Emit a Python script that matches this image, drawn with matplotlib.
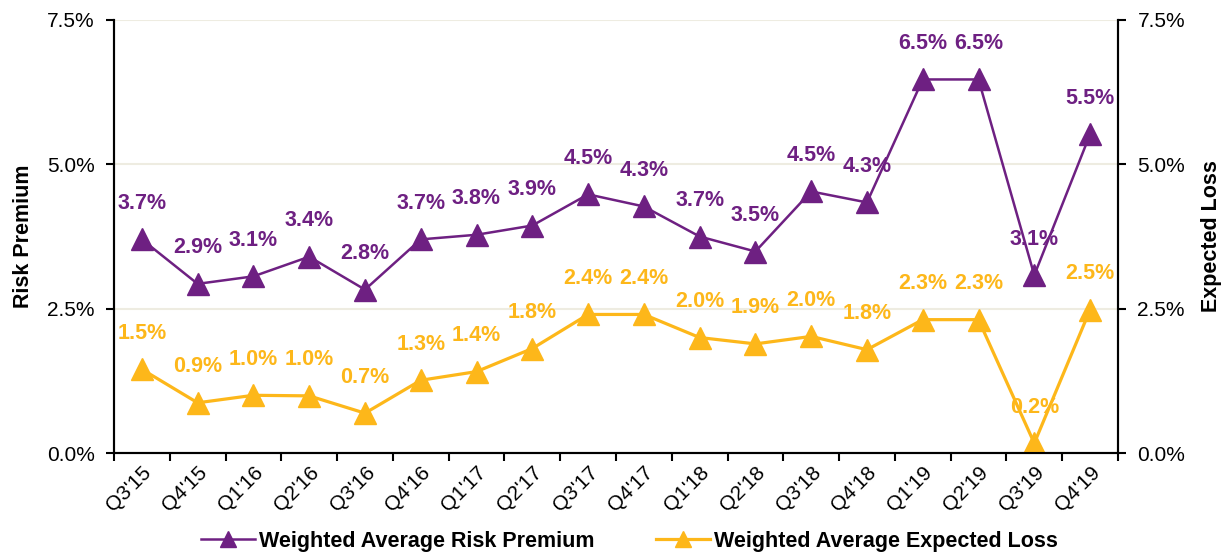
import matplotlib.pyplot as plt
from matplotlib.ticker import FuncFormatter

quarters = ["Q3'15", "Q4'15", "Q1'16", "Q2'16", "Q3'16", "Q4'16", "Q1'17", "Q2'17", "Q3'17",
            "Q4'17", "Q1'18", "Q2'18", "Q3'18", "Q4'18", "Q1'19", "Q2'19", "Q3'19", "Q4'19"]
riskPremium = [3.70, 2.93, 3.06, 3.40, 2.83, 3.70, 3.78, 3.94, 4.48,
               4.27, 3.75, 3.49, 4.53, 4.34, 6.47, 6.47, 3.08, 5.52]
riskLabels = ["3.7%", "2.9%", "3.1%", "3.4%", "2.8%", "3.7%", "3.8%", "3.9%", "4.5%",
              "4.3%", "3.7%", "3.5%", "4.5%", "4.3%", "6.5%", "6.5%", "3.1%", "5.5%"]
expectedLoss = [1.45, 0.87, 1.00, 0.99, 0.69, 1.26, 1.41, 1.81, 2.40,
                2.40, 2.00, 1.89, 2.02, 1.79, 2.31, 2.31, 0.17, 2.48]
lossLabels = ["1.5%", "0.9%", "1.0%", "1.0%", "0.7%", "1.3%", "1.4%", "1.8%", "2.4%",
              "2.4%", "2.0%", "1.9%", "2.0%", "1.8%", "2.3%", "2.3%", "0.2%", "2.5%"]
yTicks = [0, 2.5, 5.0, 7.5]

purple = '#6E2082'
orange = '#FDB71A'
plt.rcParams['font.family'] = ['Liberation Sans', 'DejaVu Sans']

fig = plt.figure(figsize=(12.23, 5.52), dpi=100)
ax = fig.add_axes([0.0932, 0.1793, 0.8209, 0.7845])
ax2 = ax.twinx()

x = list(range(len(quarters)))
ax.plot(x, riskPremium, color=purple, lw=1.8, marker='^', ms=16, label='Weighted Average Risk Premium', zorder=3)
ax.plot(x, expectedLoss, color=orange, lw=2.3, marker='^', ms=16, label='Weighted Average Expected Loss', zorder=3)

for i in x:
    ax.annotate(riskLabels[i], (i, riskPremium[i]), xytext=(0, 26), textcoords='offset points',
                ha='center', va='center', color=purple, fontsize=15.5, fontweight='bold', zorder=4)
    ax.annotate(lossLabels[i], (i, expectedLoss[i]), xytext=(0, 26), textcoords='offset points',
                ha='center', va='center', color=orange, fontsize=15.5, fontweight='bold', zorder=4)

pct = FuncFormatter(lambda v, p: '%.1f%%' % v)
for a in (ax, ax2):
    a.set_ylim(0, 7.5)
    a.set_yticks(yTicks)
    a.yaxis.set_major_formatter(pct)
    a.tick_params(axis='y', labelsize=15, length=6, width=1.5, direction='out', pad=8)
    a.spines['top'].set_visible(False)
    for s in ('left', 'right', 'bottom'):
        a.spines[s].set_linewidth(1.5)

ax.grid(axis='y', color='#EEECE1', lw=1.5, zorder=0)
ax.set_xlim(-0.5, len(quarters) - 0.5)
ax.set_xticks(x)
ax.set_xticklabels(quarters, rotation=45, ha='right', rotation_mode='anchor', fontsize=15)
ax.tick_params(axis='x', which='major', length=0, pad=7)
ax.set_xticks([i - 0.5 for i in range(len(quarters) + 1)], minor=True)
ax.tick_params(axis='x', which='minor', length=6, width=1.5)

ax.set_ylabel('Risk Premium', fontsize=15.5, fontweight='bold', labelpad=9)
ax2.set_ylabel('Expected Loss', fontsize=15.5, fontweight='bold', labelpad=11)

fig.legend(loc='lower center', bbox_to_anchor=(0.5145, -0.035), ncol=2, frameon=False,
           prop={'size': 15.5, 'weight': 'bold'}, handlelength=2.5, handletextpad=0.2,
           columnspacing=2.85, markerscale=0.75)

fig.savefig('out.png', dpi=100)
